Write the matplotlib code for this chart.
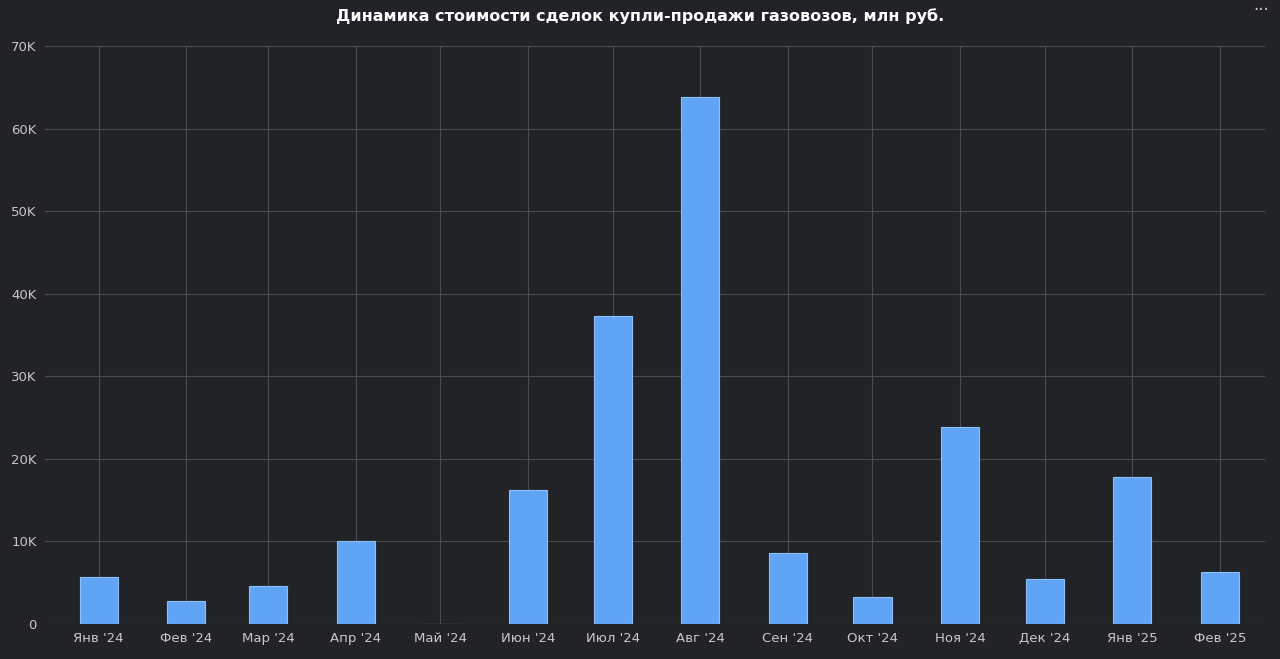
import datetime as dt
import matplotlib
matplotlib.use("Agg")
import matplotlib.pyplot as plt
import matplotlib.dates as mdates
from matplotlib.ticker import FuncFormatter

months = [dt.date(2024, m, 1) for m in range(1, 13)] + [dt.date(2025, 1, 1), dt.date(2025, 2, 1)]
labels = ["Янв '24", "Фев '24", "Мар '24", "Апр '24", "Май '24", "Июн '24", "Июл '24",
          "Авг '24", "Сен '24", "Окт '24", "Ноя '24", "Дек '24", "Янв '25", "Фев '25"]
values = [5700, 2800, 4600, 10000, 0, 16200, 37300, 63800, 8600, 3300, 23800, 5400, 17800, 6300]

BG = "#222327"
fig = plt.figure(figsize=(12.8, 6.59), dpi=100, facecolor=BG)
ax = fig.add_axes([45 / 1280, 35 / 659, 1220 / 1280, 578 / 659], facecolor=BG)

x = mdates.date2num(months)
ax.bar(x, values, width=13.5, color="#60a5f5", edgecolor="#8cc0f8", linewidth=0.8, zorder=3)

ax.set_xlim(mdates.date2num(dt.date(2023, 12, 13)), mdates.date2num(dt.date(2025, 2, 17)))
ax.set_ylim(0, 70000)
ax.set_xticks(x)
ax.set_xticklabels(labels)
ax.set_yticks(range(0, 70001, 10000))
ax.yaxis.set_major_formatter(FuncFormatter(lambda v, p: "0" if v == 0 else f"{int(v/1000)}K"))
ax.grid(True, color="#4a4b50", linewidth=0.8, zorder=0)
ax.tick_params(colors="#c8c8c8", labelsize=9.5, length=0, pad=6)
for s in ax.spines.values():
    s.set_visible(False)
for lbl in ax.get_yticklabels():
    lbl.set_horizontalalignment("right")

fig.text(0.5, 0.975, "Динамика стоимости сделок купли-продажи газовозов, млн руб.",
         ha="center", va="center", color="white", fontsize=11.5, fontweight="bold")
fig.text(0.985, 0.985, "···", ha="center", va="center", color="#c8c8c8", fontsize=12)

fig.savefig("out.png", dpi=100, facecolor=BG)
